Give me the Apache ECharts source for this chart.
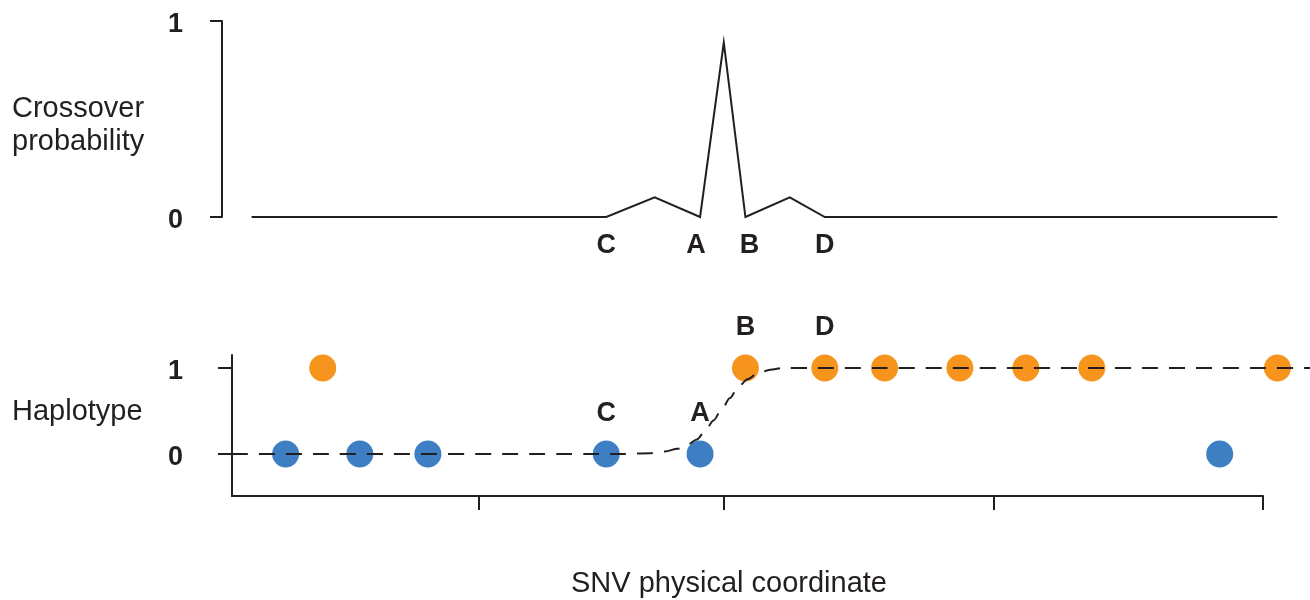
<!DOCTYPE html>
<html>
<head>
<meta charset="utf-8">
<script src="https://cdn.jsdelivr.net/npm/echarts@6/dist/echarts.min.js"></script>
<style>
  html, body { margin: 0; padding: 0; background: #ffffff; }
  #chart { width: 1310px; height: 600px; }
</style>
</head>
<body>
<div id="chart"></div>
<script>
// SNV physical coordinate, arbitrary units along the chromosome segment
const crossX = [19, 363, 410, 454, 477, 498, 541, 575, 1014];
const crossProb = [0, 0, 0.10, 0, 0.89, 0, 0.10, 0, 0];

// Genotyped SNVs by inferred haplotype
const hap0X = [52, 124, 190, 363, 454, 958];
const hap1X = [88, 498, 575, 633, 706, 770, 834, 1014];

// Fitted haplotype switch (smoothed)
const fitX = [0, 380, 405, 420, 432, 442, 451, 459, 467, 475, 483, 491, 500, 510, 522, 535, 560, 1046];
const fitY = [0, 0, 0.01, 0.03, 0.06, 0.11, 0.17, 0.27, 0.39, 0.52, 0.65, 0.78, 0.87, 0.94, 0.98, 1, 1, 1];

// Candidate crossover boundary SNVs
const markerNames = ['C', 'A', 'B', 'D'];
const markerX = [363, 454, 498, 575];
const markerHap = [0, 0, 1, 1];

// Ticks on the physical-coordinate axis
const coordTicks = [239, 477, 739, 1000];

const INK = '#231F20';
const ORANGE = '#F7941E';
const BLUE = '#3D7FC2';
const FONT = '"Liberation Sans", Arial, Helvetica, sans-serif';

const chart = echarts.init(document.getElementById('chart'), null, { renderer: 'canvas' });

const xMaxView = 1045.6;

const topLabelOffsets = { C: [0, 0], A: [-4, 0], B: [4, 0], D: [0, 0] };

// Bold tick digits, nudged down so the numerals sit centred on the tick
const digitRich = {
  d: { fontFamily: FONT, fontSize: 27, fontWeight: 'bold', color: INK, padding: [7, 0, 0, 0] }
};
const digitFormatter = v => '{d|' + String(Math.round(v)) + '}';

const option = {
  animation: false,
  backgroundColor: '#ffffff',
  textStyle: { fontFamily: FONT, color: INK },
  title: [
    { text: 'Crossover\nprobability', left: 12, top: 92, padding: 0,
      textStyle: { fontFamily: FONT, fontSize: 29, fontWeight: 'normal', color: INK, lineHeight: 33 } },
    { text: 'Haplotype', left: 12, top: 397, padding: 0,
      textStyle: { fontFamily: FONT, fontSize: 29, fontWeight: 'normal', color: INK } },
    { text: 'SNV physical coordinate', left: 571, top: 569, padding: 0,
      textStyle: { fontFamily: FONT, fontSize: 29, fontWeight: 'normal', color: INK } }
  ],
  grid: [
    { left: 222, right: 0, top: 21, bottom: 383 },
    { left: 232, right: 0, top: 355, bottom: 104 },
    { left: 232, right: 47, top: 355, bottom: 104 }
  ],
  xAxis: [
    { gridIndex: 0, type: 'value', min: -9.7, max: xMaxView, show: false },
    { gridIndex: 1, type: 'value', min: 0, max: xMaxView, show: false },
    { gridIndex: 2, type: 'value', min: 0, max: 1000, position: 'bottom',
      axisLine: { show: true, onZero: false, lineStyle: { color: INK, width: 2 } },
      axisTick: { show: true, length: 14, customValues: coordTicks, lineStyle: { color: INK, width: 2 } },
      axisLabel: { show: false },
      splitLine: { show: false } }
  ],
  yAxis: [
    { gridIndex: 0, type: 'value', min: 0, max: 1, interval: 1, position: 'left',
      axisLine: { show: true, onZero: false, lineStyle: { color: INK, width: 2 } },
      axisTick: { show: true, length: 12, lineStyle: { color: INK, width: 2 } },
      axisLabel: { show: true, margin: 39, formatter: digitFormatter, rich: digitRich },
      splitLine: { show: false } },
    { gridIndex: 1, type: 'value', min: -0.488, max: 1.151, position: 'left',
      axisLine: { show: true, onZero: false, lineStyle: { color: INK, width: 2 } },
      axisTick: { show: true, length: 14, customValues: [0, 1], lineStyle: { color: INK, width: 2 } },
      axisLabel: { show: true, margin: 49, customValues: [0, 1], formatter: digitFormatter, rich: digitRich },
      splitLine: { show: false } },
    { gridIndex: 2, type: 'value', min: -0.488, max: 1.151, show: false }
  ],
  series: [
    {
      name: 'Crossover probability',
      type: 'line',
      xAxisIndex: 0, yAxisIndex: 0,
      data: crossX.map((x, i) => [x, crossProb[i]]),
      showSymbol: false,
      lineStyle: { color: INK, width: 2, join: 'miter' },
      clip: false,
      z: 3
    },
    {
      name: 'Crossover labels',
      type: 'scatter',
      xAxisIndex: 0, yAxisIndex: 0,
      symbolSize: 0,
      silent: true,
      itemStyle: { color: 'transparent', opacity: 1 },
      data: markerNames.map((n, i) => ({
        value: [markerX[i], 0],
        name: n,
        label: { offset: topLabelOffsets[n] }
      })),
      label: {
        show: true, position: 'bottom', distance: 15,
        formatter: p => p.name,
        fontFamily: FONT, fontSize: 27, fontWeight: 'bold', color: INK
      }
    },
    {
      name: 'Haplotype 0',
      type: 'scatter',
      xAxisIndex: 1, yAxisIndex: 1,
      symbol: 'circle', symbolSize: 27,
      itemStyle: { color: BLUE, opacity: 1 },
      data: hap0X.map(x => [x, 0]),
      clip: false,
      z: 2
    },
    {
      name: 'Haplotype 1',
      type: 'scatter',
      xAxisIndex: 1, yAxisIndex: 1,
      symbol: 'circle', symbolSize: 27,
      itemStyle: { color: ORANGE, opacity: 1 },
      data: hap1X.map(x => [x, 1]),
      clip: false,
      z: 2
    },
    {
      name: 'Haplotype labels',
      type: 'scatter',
      xAxisIndex: 1, yAxisIndex: 1,
      symbolSize: 27,
      itemStyle: { color: 'transparent', opacity: 1 },
      silent: true,
      data: markerNames.map((n, i) => ({ value: [markerX[i], markerHap[i]], name: n })),
      label: {
        show: true, position: 'top', distance: 13,
        formatter: p => p.name,
        fontFamily: FONT, fontSize: 27, fontWeight: 'bold', color: INK
      },
      clip: false,
      z: 4
    },
    {
      name: 'Fitted haplotype',
      type: 'line',
      xAxisIndex: 1, yAxisIndex: 1,
      data: fitX.map((x, i) => [x, fitY[i]]),
      showSymbol: false,
      smooth: 0.3,
      smoothMonotone: 'x',
      lineStyle: { color: INK, width: 2, type: [16, 11] },
      z: 5
    }
  ]
};

chart.setOption(option);
</script>
</body>
</html>
